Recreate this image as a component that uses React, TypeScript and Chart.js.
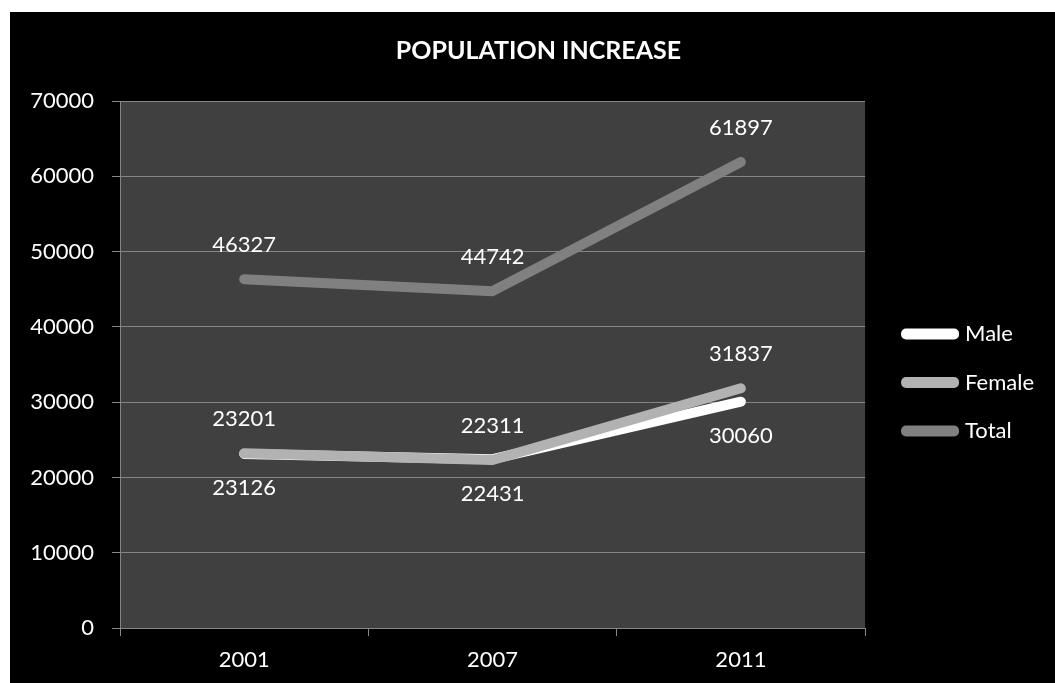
import React, { useEffect, useRef } from "react";
import { Chart, registerables } from "chart.js";

Chart.register(...registerables);

const years = ["2001", "2007", "2011"];
const male = [23126, 22431, 30060];
const female = [23201, 22311, 31837];
const total = [46327, 44742, 61897];
const seriesNames = ["Male", "Female", "Total"];
const yTicks = [0, 10000, 20000, 30000, 40000, 50000, 60000, 70000];
const titleText = "POPULATION INCREASE";

const FONT = "Lato";

const bgPlugin = {
  id: "bgPlugin",
  beforeDraw(chart: any) {
    const { ctx, chartArea, width, height } = chart;
    ctx.save();
    ctx.fillStyle = "#ffffff";
    ctx.fillRect(0, 0, width, height);
    ctx.fillStyle = "#000000";
    ctx.fillRect(10, 12, width - 10, height - 12);
    ctx.fillStyle = "#404040";
    ctx.fillRect(chartArea.left, chartArea.top, chartArea.right - chartArea.left, chartArea.bottom - chartArea.top);
    ctx.restore();
  },
};

const labelPlugin = {
  id: "valueLabels",
  afterDatasetsDraw(chart: any) {
    const { ctx } = chart;
    ctx.save();
    ctx.font = `22px ${FONT}`;
    ctx.fillStyle = "#ffffff";
    ctx.textAlign = "center";
    ctx.textBaseline = "middle";
    chart.data.datasets.forEach((ds: any, i: number) => {
      const meta = chart.getDatasetMeta(i);
      const dir = ds.labelDir === "below" ? 1 : -1;
      meta.data.forEach((pt: any, j: number) => {
        ctx.fillText(String(ds.data[j]), pt.x, pt.y + dir * 34.5);
      });
    });
    ctx.restore();
  },
};

export default function App() {
  const ref = useRef<HTMLCanvasElement>(null);
  useEffect(() => {
    if (!ref.current) return;
    const chart = new Chart(ref.current, {
      type: "line",
      data: {
        labels: years,
        datasets: [
          {
            label: seriesNames[0],
            data: male,
            borderColor: "#ffffff",
            backgroundColor: "#ffffff",
            order: 1,
            labelDir: "below",
          } as any,
          {
            label: seriesNames[1],
            data: female,
            borderColor: "#b2b2b2",
            backgroundColor: "#b2b2b2",
            order: 0,
            labelDir: "above",
          } as any,
          {
            label: seriesNames[2],
            data: total,
            borderColor: "#808080",
            backgroundColor: "#808080",
            order: 2,
            labelDir: "above",
          } as any,
        ],
      },
      options: {
        responsive: false,
        animation: false,
        devicePixelRatio: 1,
        elements: {
          line: { borderWidth: 10, tension: 0, borderCapStyle: "round", borderJoinStyle: "round", fill: false },
          point: { radius: 0, hoverRadius: 0 },
        },
        layout: { padding: { top: 0, left: 10, right: -12, bottom: 0 } },
        plugins: {
          tooltip: { enabled: false },
          title: {
            display: true,
            text: titleText,
            color: "#ffffff",
            font: { family: FONT, size: 25, weight: "bold" },
            padding: { top: 36, bottom: 35 },
          },
          legend: {
            position: "right",
            fullSize: false,
            title: { display: true, text: "", font: { size: 1 }, padding: { top: 34.8, bottom: 0 } },
            labels: {
              color: "#ffffff",
              font: { family: FONT, size: 22 },
              boxWidth: 48,
              boxHeight: 1,
              padding: 26.5,
              sort: (a: any, b: any) => a.datasetIndex - b.datasetIndex,
            },
          },
        },
        scales: {
          x: {
            type: "category",
            offset: true,
            grid: {
              display: true,
              drawOnChartArea: false,
              drawTicks: true,
              tickLength: 8,
              offset: true,
              color: "#868686",
            },
            border: { display: true, color: "#868686", width: 1 },
            ticks: { color: "#ffffff", font: { family: FONT, size: 22 }, padding: 11, maxRotation: 0 },
            afterFit(s: any) {
              s.height = 55;
            },
          },
          y: {
            type: "linear",
            min: 0,
            max: 70000,
            afterBuildTicks(s: any) {
              s.ticks = yTicks.map((v) => ({ value: v }));
            },
            grid: { color: "#868686", tickLength: 8, drawTicks: true },
            border: { display: true, color: "#868686", width: 1 },
            ticks: {
              color: "#ffffff",
              font: { family: FONT, size: 22 },
              padding: 18,
              callback: (v: any) => String(v),
            },
            afterFit(s: any) {
              s.width = 110;
            },
          },
          gap: {
            type: "linear",
            position: "right",
            display: false,
            afterFit(s: any) {
              s.width = 14.5;
            },
          },
          gapOuter: {
            type: "linear",
            position: "right",
            weight: 5000,
            display: false,
            afterFit(s: any) {
              s.width = 23;
            },
          },
        },
      } as any,
      plugins: [bgPlugin, labelPlugin],
    });
    return () => chart.destroy();
  }, []);
  return (
    <div style={{ position: "absolute", left: 0, top: 0, width: 1055, height: 683 }}>
      <canvas ref={ref} width={1055} height={683} />
    </div>
  );
}
